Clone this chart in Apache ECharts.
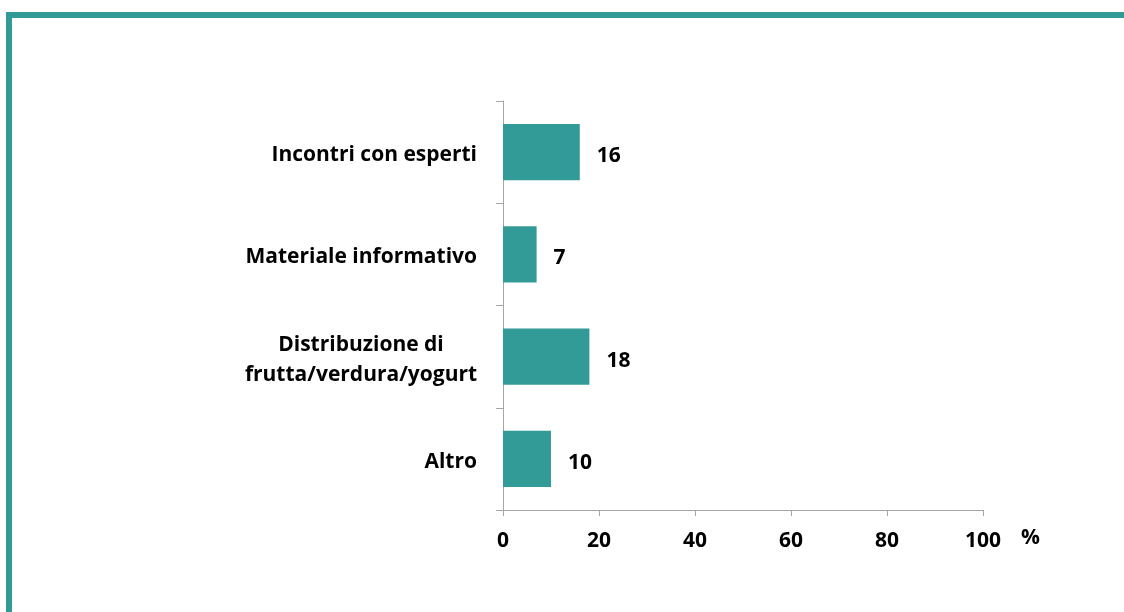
<!DOCTYPE html>
<html>
<head>
<meta charset="utf-8">
<script src="https://cdn.jsdelivr.net/npm/echarts@6/dist/echarts.min.js"></script>
<style>
  html, body { margin: 0; padding: 0; background: #fff; }
  #chart { width: 1124px; height: 612px; }
</style>
</head>
<body>
<div id="chart"></div>
<script>
  const categories = [
    "Incontri con esperti",
    "Materiale informativo",
    "Distribuzione di\nfrutta/verdura/yogurt",
    "Altro"
  ];
  const values = [16, 7, 18, 10];
  const xTicks = [0, 20, 40, 60, 80, 100];

  const teal = "#339b97";
  const axisGrey = "#a6a6a6";
  const font = "Open Sans";
  const fs = 21;

  const chart = echarts.init(document.getElementById("chart"));

  chart.setOption({
    animation: false,
    grid: { left: 503, right: 141, top: 101, bottom: 102 },
    xAxis: {
      type: "value",
      min: xTicks[0],
      max: xTicks[xTicks.length - 1],
      interval: xTicks[1] - xTicks[0],
      splitLine: { show: false },
      axisLine: { show: true, lineStyle: { color: axisGrey, width: 1 } },
      axisTick: { show: true, length: 6, lineStyle: { color: axisGrey } },
      axisLabel: {
        margin: 21,
        color: "#000",
        fontFamily: font,
        fontWeight: "bold",
        fontSize: fs
      }
    },
    yAxis: {
      type: "category",
      inverse: true,
      data: categories,
      axisLine: { show: true, lineStyle: { color: axisGrey, width: 1 } },
      axisTick: { show: true, length: 7, lineStyle: { color: axisGrey } },
      axisLabel: {
        margin: 26,
        padding: [6, 0, 0, 0],
        color: "#000",
        fontFamily: font,
        fontWeight: "bold",
        fontSize: fs,
        lineHeight: 30,
        formatter: function (v) {
          return v.indexOf("\n") >= 0 ? "{c|" + v + "}" : v;
        },
        rich: {
          c: {
            width: 232,
            align: "center",
            color: "#000",
            fontFamily: font,
            fontWeight: "bold",
            fontSize: fs,
            lineHeight: 30
          }
        }
      }
    },
    series: [
      {
        type: "bar",
        data: values,
        barWidth: "55%",
        itemStyle: { color: teal },
        label: {
          show: true,
          position: "right",
          distance: 17,
          offset: [0, 4],
          color: "#000",
          fontFamily: font,
          fontWeight: "bold",
          fontSize: fs
        }
      }
    ],
    graphic: [
      { type: "rect", shape: { x: 6, y: 12, width: 1118, height: 6 }, style: { fill: teal } },
      { type: "rect", shape: { x: 6, y: 12, width: 6, height: 600 }, style: { fill: teal } },
      {
        type: "text",
        left: 1021,
        top: 528,
        style: { text: "%", fill: "#000", font: "bold " + fs + "px " + font }
      }
    ]
  });
</script>
</body>
</html>
